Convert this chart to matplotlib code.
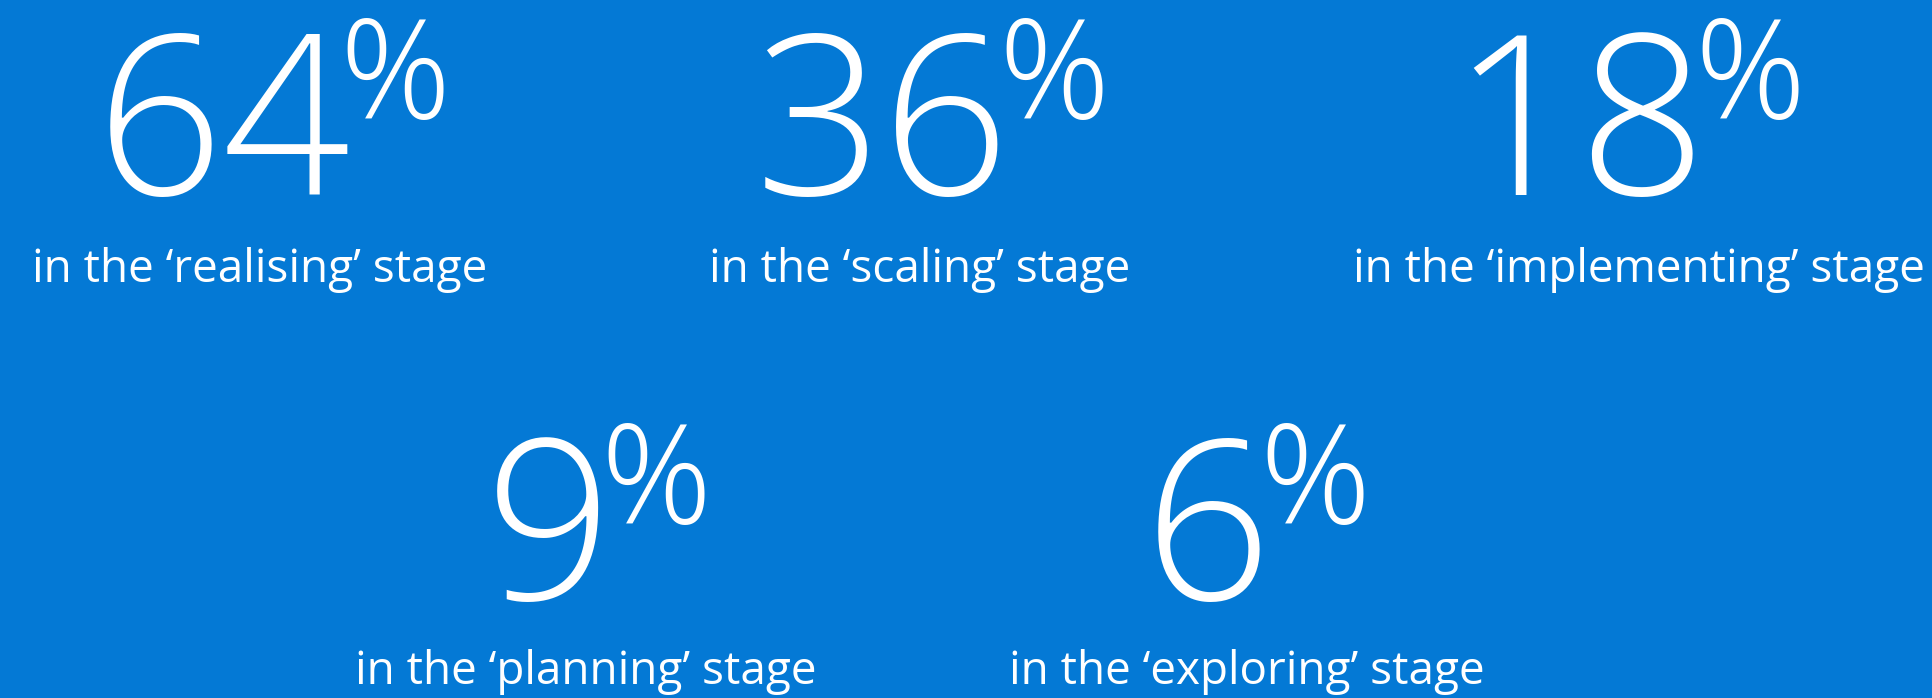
import matplotlib.pyplot as plt

percents = [64, 36, 18, 9, 6]
stages = ['realising', 'scaling', 'implementing', 'planning', 'exploring']

# layout in pixels: centre of the number group, centre of the label, row
number_x = [273, 932, 1628, 598, 1257]
label_x = [260, 920, 1639, 586, 1247]
rows = [0, 0, 0, 1, 1]
digit_base = [195, 600]
label_base = [282, 684]

W, H = 1933, 698
bg = '#0479d5'

fig = plt.figure(figsize=(W / 100, H / 100), dpi=100)
fig.patch.set_facecolor(bg)
ax = fig.add_axes([0, 0, 1, 1])
ax.set_xlim(0, W)
ax.set_ylim(H, 0)
ax.axis('off')

renderer = fig.canvas.get_renderer()

for p, stage, nx, lx, r in zip(percents, stages, number_x, label_x, rows):
    num = ax.text(0, digit_base[r], str(p), fontsize=161, fontweight='light',
                  family='Open Sans', color='white', ha='left', va='baseline')
    pct = ax.text(0, digit_base[r] - 77, '%', fontsize=99, fontweight='light',
                  family='Open Sans', color='white', ha='left', va='baseline')
    w_num = num.get_window_extent(renderer).width
    w_pct = pct.get_window_extent(renderer).width
    gap = -12
    left = nx - (w_num + gap + w_pct) / 2
    num.set_x(left)
    pct.set_x(left + w_num + gap)

    ax.text(lx, label_base[r], f'in the \u2018{stage}\u2019 stage', fontsize=33,
            family='Open Sans', color='white', ha='center', va='baseline')

fig.savefig('out.png', dpi=100, facecolor=bg)
